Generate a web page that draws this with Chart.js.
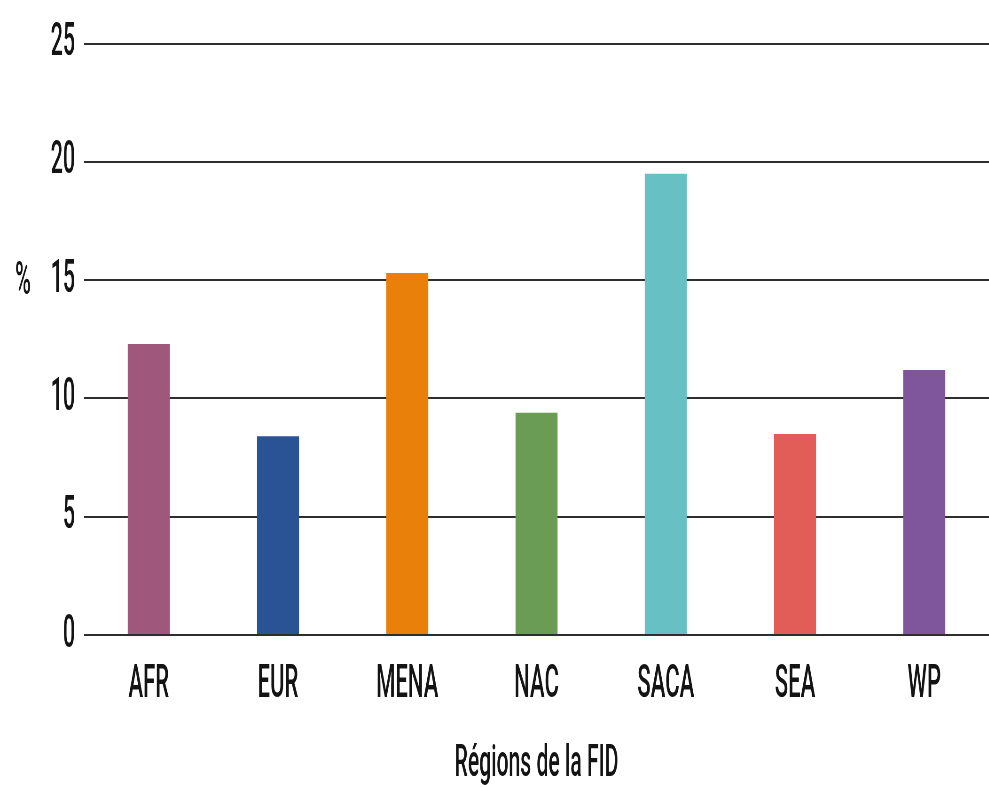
<!DOCTYPE html>
<html lang="fr">
<head>
<meta charset="utf-8">
<title>Prévalence par région de la FID</title>
<script src="https://cdn.jsdelivr.net/npm/chart.js@4.4.1/dist/chart.umd.min.js"></script>
<style>
  html, body { margin: 0; padding: 0; background: #ffffff; }
  #wrap { width: 989px; height: 787px; overflow: hidden; position: relative; }
  /* The chart is laid out on a wide canvas and squeezed horizontally,
     which gives the narrow, condensed lettering of the original layout. */
  #chart { transform: scaleX(0.47); transform-origin: 0 0; display: block; }
</style>
</head>
<body>
<div id="wrap">
  <canvas id="chart" width="2104" height="787"></canvas>
</div>
<script>
// Régions de la FID et valeurs (%)
const categories = ['AFR', 'EUR', 'MENA', 'NAC', 'SACA', 'SEA', 'WP'];
const prevalence = [12.3, 8.4, 15.3, 9.4, 19.5, 8.5, 11.2];
const barColors = ['#9f587b', '#2a5396', '#e8800a', '#6a9c55', '#66c0c4', '#e25d58', '#7f559b'];
const yTicks = [0, 5, 10, 15, 20, 25];
const yUnit = '%';
const xTitle = 'Régions de la FID';

const FONT = 'Roboto';
const TEXT = '#141414';

// Unit label drawn horizontally beside the value axis
const unitLabel = {
  id: 'unitLabel',
  afterDraw(chart) {
    const ctx = chart.ctx;
    const y = chart.scales.y.getPixelForValue(15) + 2;
    ctx.save();
    ctx.font = `500 46px ${FONT}`;
    ctx.fillStyle = TEXT;
    ctx.textAlign = 'center';
    ctx.textBaseline = 'middle';
    ctx.fillText(yUnit, 49, y);
    ctx.restore();
  }
};

new Chart(document.getElementById('chart'), {
  type: 'bar',
  data: {
    labels: categories,
    datasets: [{
      data: prevalence,
      backgroundColor: barColors,
      borderWidth: 0,
      categoryPercentage: 1,
      barPercentage: 0.325
    }]
  },
  options: {
    responsive: false,
    animation: false,
    devicePixelRatio: 1,
    layout: { padding: { top: 12, right: 0, bottom: 0, left: 0 } },
    plugins: {
      legend: { display: false },
      tooltip: { enabled: false }
    },
    scales: {
      x: {
        grid: { display: false },
        border: { display: false },
        ticks: {
          color: TEXT,
          font: { family: FONT, size: 47, weight: '500' },
          padding: 14
        },
        title: {
          display: true,
          text: xTitle,
          color: TEXT,
          font: { family: FONT, size: 45, weight: '500', lineHeight: 1 },
          padding: { top: 0, bottom: 0 }
        },
        afterFit(scale) { scale.height = 152; }
      },
      y: {
        min: 0,
        max: 25,
        afterBuildTicks(scale) { scale.ticks = yTicks.map(v => ({ value: v })); },
        grid: {
          color: '#2e2e2e',
          lineWidth: 2,
          drawTicks: false
        },
        border: { display: false },
        ticks: {
          color: TEXT,
          font: { family: FONT, size: 46, weight: '500', lineHeight: 1.07 },
          padding: 19
        },
        afterFit(scale) { scale.width = 179; }
      }
    }
  },
  plugins: [unitLabel]
});
</script>
</body>
</html>
